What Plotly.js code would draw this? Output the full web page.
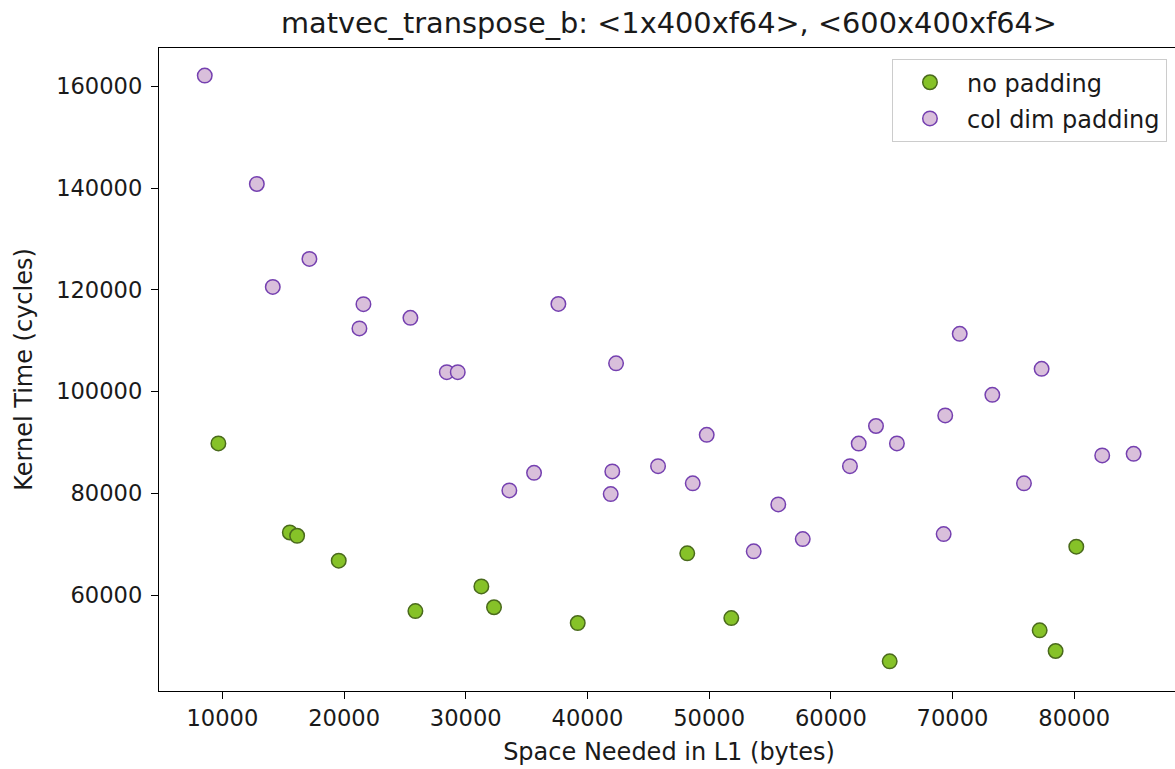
<!DOCTYPE html>
<html>
<head>
<meta charset="utf-8">
<script src="https://cdn.plot.ly/plotly-3.0.1.min.js"></script>
<style>
  html, body { margin: 0; padding: 0; overflow: hidden; background: #fff; }
  #chart { width: 1181px; height: 769px; }
</style>
</head>
<body>
<div id="chart"></div>
<script>
// ---- data ----
const noPadX = [9670, 15540, 16140, 19560, 25860, 31280, 32320, 39200, 48200, 51820, 64835, 77160, 78470, 80170];
const noPadY = [89800, 72300, 71650, 66750, 56850, 61700, 57600, 54500, 68200, 55480, 46970, 53060, 49000, 69500];

const colPadX = [8550, 12830, 17150, 14140, 21590, 21260, 25450, 28440, 29340, 37610,
                 33580, 35610, 42040, 41910, 42350, 45800, 49800, 48650, 55680, 57690,
                 53660, 61570, 62290, 63710, 65430, 69400, 70590, 73270, 77320, 75870,
                 82300, 84880, 69270];
const colPadY = [162100, 140800, 126070, 120570, 117170, 112400, 114490, 103810, 103810, 117230,
                 80570, 84030, 84300, 79840, 105550, 85340, 91490, 81950, 77820, 71000,
                 68590, 85340, 89780, 93230, 89800, 95300, 111340, 99350, 104460, 81950,
                 87450, 87760, 71980];

const seriesNames = ["no padding", "col dim padding"];
const titleText = "matvec_transpose_b: <1x400xf64>, <600x400xf64>";
const xTitle = "Space Needed in L1 (bytes)";
const yTitle = "Kernel Time (cycles)";
const xTicks = [10000, 20000, 30000, 40000, 50000, 60000, 70000, 80000];
const yTicks = [60000, 80000, 100000, 120000, 140000, 160000];

const FONT = "DejaVu Sans, Verdana, sans-serif";
const TICK_FS = 22.6;
const LABEL_FS = 24;
const TITLE_FS = 28.8;
const TXT = "#1a1a1a";

const traces = [
  {
    type: "scatter", mode: "markers", name: seriesNames[0], legendgroup: "a",
    x: noPadX, y: noPadY,
    marker: { size: 14.5, color: "#86c228", line: { color: "#4a6a1c", width: 1.5 } },
    hoverinfo: "x+y"
  },
  {
    type: "scatter", mode: "markers", name: seriesNames[1], legendgroup: "b",
    x: colPadX, y: colPadY,
    marker: { size: 14.5, color: "#d9bfdb", line: { color: "#7540b0", width: 1.5 } },
    hoverinfo: "x+y"
  }
];

const axisCommon = {
  showgrid: false, zeroline: false,
  showline: true, linecolor: "#000", linewidth: 1.2, mirror: true,
  ticks: "outside", ticklen: 7, tickwidth: 1.2, tickcolor: "#000",
  tickfont: { family: FONT, size: TICK_FS, color: TXT },
  automargin: false
};

const layout = {
  width: 1181, height: 769,
  paper_bgcolor: "#fff", plot_bgcolor: "#fff",
  margin: { l: 159, r: 2, t: 48, b: 78 },
  font: { family: FONT, size: LABEL_FS, color: TXT },
  title: {
    text: titleText, font: { family: FONT, size: TITLE_FS, color: TXT },
    x: 0.5, xref: "paper", xanchor: "center",
    y: 1 - 23 / 769, yref: "container", yanchor: "middle"
  },
  xaxis: Object.assign({}, axisCommon, {
    range: [4790, 88610],
    tickvals: xTicks, ticktext: xTicks.map(String),
    ticklabelstandoff: 0,
    title: { text: xTitle, font: { family: FONT, size: LABEL_FS, color: TXT }, standoff: 12 }
  }),
  yaxis: Object.assign({}, axisCommon, {
    range: [41140, 167525],
    tickvals: yTicks, ticktext: yTicks.map(String),
    ticklabelstandoff: 4,
    title: { text: yTitle, font: { family: FONT, size: LABEL_FS, color: TXT }, standoff: 16 }
  }),
  showlegend: true,
  legend: {
    x: 0.988, xanchor: "right", y: 0.983, yanchor: "top",
    bgcolor: "#fff", bordercolor: "#cccccc", borderwidth: 1.2,
    font: { family: FONT, size: LABEL_FS, color: TXT },
    traceorder: "grouped", tracegroupgap: 2,
    itemwidth: 64
  },
  hovermode: "closest"
};

Plotly.newPlot("chart", traces, layout, { displayModeBar: false });
</script>
</body>
</html>
